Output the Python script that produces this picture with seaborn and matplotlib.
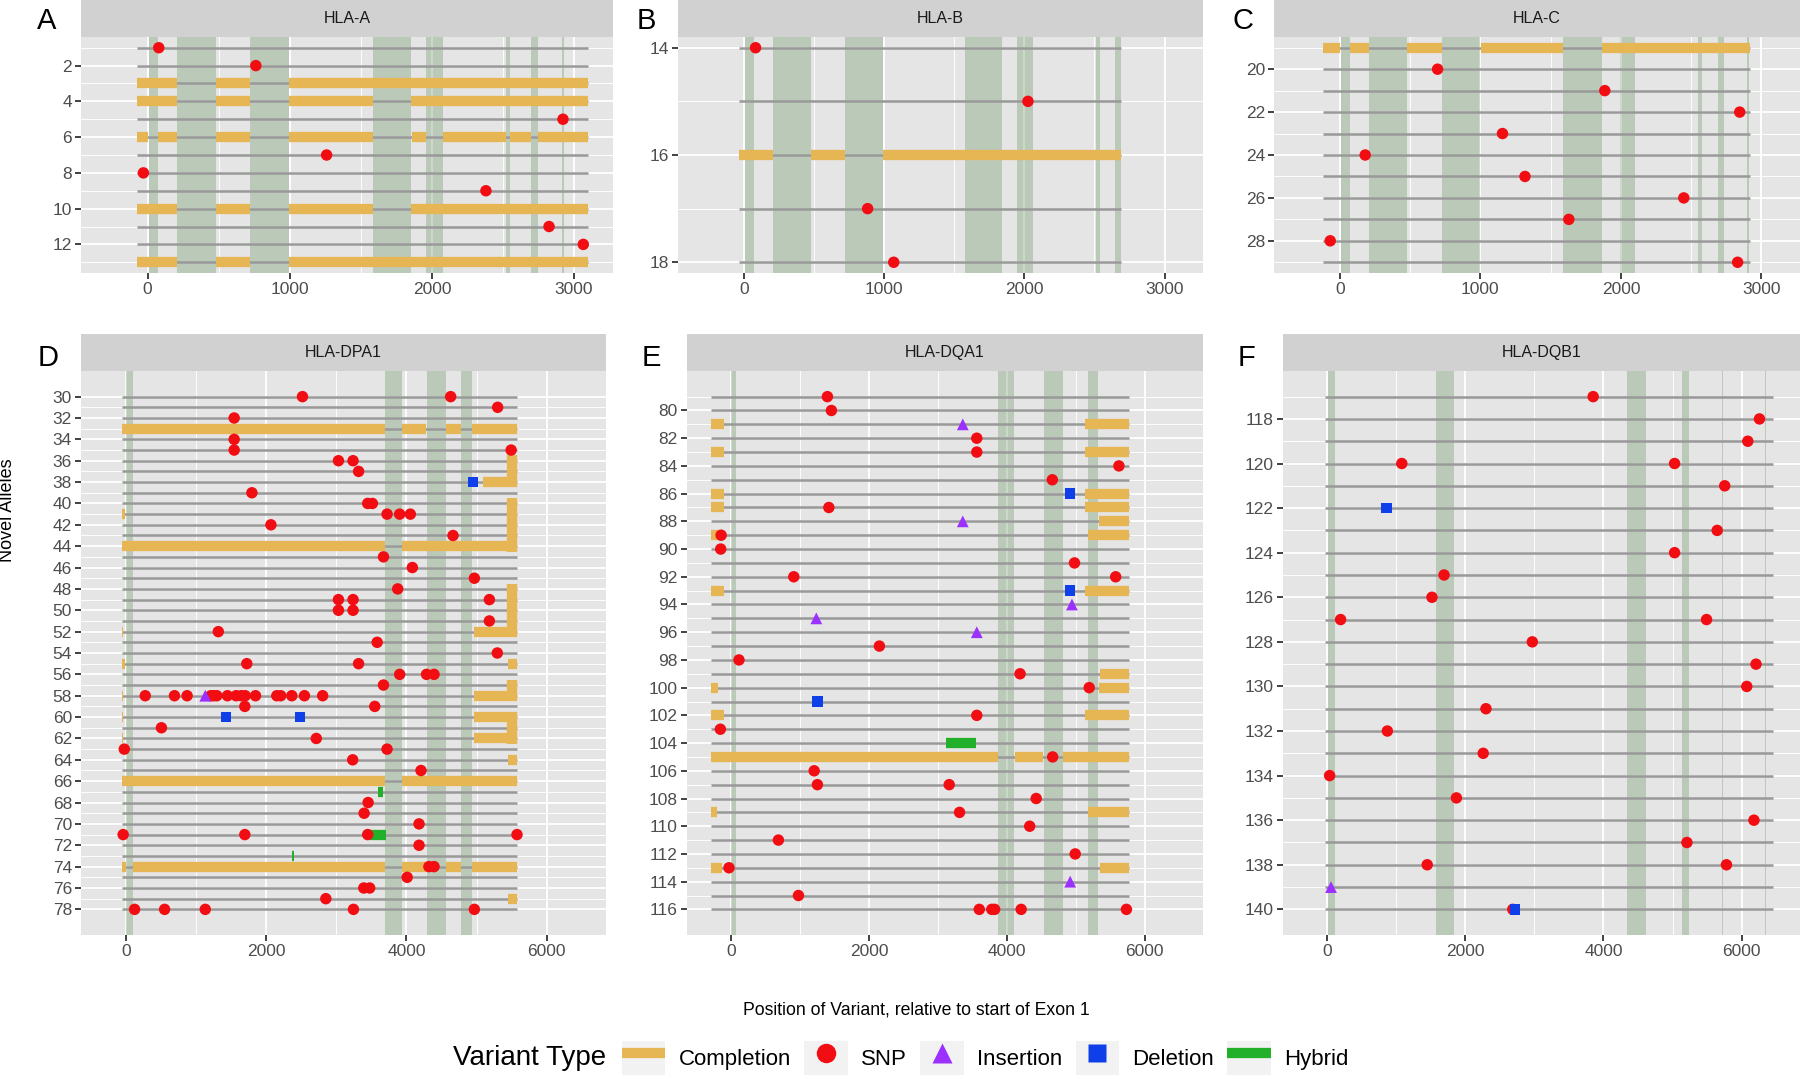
import numpy as np
import pandas as pd
import matplotlib
matplotlib.use("Agg")
import matplotlib.pyplot as plt
import seaborn as sns
from matplotlib.collections import LineCollection
from matplotlib.lines import Line2D
from matplotlib.patches import Rectangle
from matplotlib.legend_handler import HandlerTuple

# genes and the alleles shown in each panel
GENES = ['HLA-A', 'HLA-B', 'HLA-C', 'HLA-DPA1', 'HLA-DQA1', 'HLA-DQB1']
PANEL_LETTERS = ['A', 'B', 'C', 'D', 'E', 'F']
ALLELE_FIRST = [1, 14, 19, 30, 79, 117]
ALLELE_LAST = [13, 18, 29, 78, 116, 140]
GENE_START = [-76, -33, -120, -62, -286, -30]
GENE_END = [3098, 2691, 2921, 5577, 5766, 6458]

# exon positions (start, end)
EXONS_A = [(8, 70), (209, 479), (720, 997), (1582, 1856), (1960, 2078),
           (2519, 2552), (2698, 2746), (2916, 2928)]
EXONS_B = [(10, 74), (207, 477), (724, 992), (1577, 1844), (1949, 2064),
           (2508, 2538), (2648, 2686)]
EXONS_C = [(10, 74), (209, 477), (725, 995), (1590, 1865), (1990, 2103),
           (2548, 2577), (2690, 2735), (2898, 2910)]
EXONS_DPA1 = [(0, 96), (3690, 3938), (4287, 4558), (4777, 4930)]
EXONS_DQA1 = [(0, 78), (3870, 4104), (4535, 4816), (5179, 5325)]
EXONS_DQB1 = [(15, 114), (1572, 1836), (4348, 4622), (5139, 5244),
              (5714, 5728), (6336, 6350)]
EXONS = [EXONS_A, EXONS_B, EXONS_C, EXONS_DPA1, EXONS_DQA1, EXONS_DQB1]

# variants: (allele, position)
SNPS = [
    (1, 78), (2, 761), (5, 2922), (7, 1259), (8, -30), (9, 2380), (11, 2824), (12, 3065),
    (14, 84), (15, 2026), (17, 883), (18, 1069),
    (20, 695), (21, 1885), (22, 2845), (23, 1157), (24, 180), (25, 1317), (26, 2447),
    (27, 1629), (28, -69), (29, 2830),
    (30, 2518), (30, 4631), (31, 5301), (32, 1544), (34, 1544), (35, 1544), (35, 5493),
    (36, 3031), (36, 3239), (37, 3318), (39, 1797), (40, 3448), (40, 3515), (41, 3724),
    (41, 3904), (41, 4056), (42, 2068), (43, 4665), (45, 3673), (46, 4085), (47, 4969),
    (48, 3876), (49, 3031), (49, 3239), (49, 5183), (50, 3031), (50, 3239), (51, 5183),
    (52, 1318), (53, 3583), (54, 5296), (55, 1724), (55, 3318), (56, 3904), (56, 4287),
    (56, 4394), (57, 3673), (58, 276), (58, 693), (58, 873), (58, 1211), (58, 1251),
    (58, 1296), (58, 1448), (58, 1572), (58, 1645), (58, 1701), (58, 1848), (58, 2152),
    (58, 2208), (58, 2366), (58, 2546), (58, 2806), (59, 1696), (59, 3549), (61, 507),
    (62, 2715), (63, -23), (63, 3724), (64, 3234), (65, 4208), (68, 3454), (69, 3397),
    (70, 4180), (71, -39), (71, 1696), (71, 3448), (71, 5577), (72, 4180), (74, 4321),
    (74, 4394), (75, 4011), (76, 3392), (76, 3476), (77, 2851), (78, 124), (78, 552),
    (78, 1132), (78, 3245), (78, 4969),
    (79, 1397), (80, 1455), (82, 3564), (83, 3564), (84, 5626), (85, 4660), (87, 1418),
    (89, -145), (90, -151), (91, 4982), (92, 909), (92, 5579), (97, 2151), (98, 114),
    (99, 4192), (100, 5195), (102, 3564), (103, -156), (105, 4665), (106, 1205),
    (107, 1252), (107, 3164), (108, 4426), (109, 3314), (110, 4332), (111, 686),
    (112, 4992), (113, -31), (115, 977), (116, 3600), (116, 3782), (116, 3823),
    (116, 4208), (116, 5735),
    (117, 3851), (118, 6259), (119, 6090), (120, 1080), (120, 5030), (121, 5756),
    (123, 5647), (124, 5030), (125, 1692), (126, 1517), (127, 194), (127, 5493),
    (128, 2970), (129, 6209), (130, 6075), (131, 2299), (132, 871), (133, 2259),
    (134, 35), (135, 1871), (136, 6179), (137, 5209), (138, 1448), (138, 5781),
    (140, 2687),
]
INSERTIONS = [(58, 1132), (81, 3361), (88, 3361), (94, 4945), (95, 1236),
              (96, 3564), (114, 4919), (139, 55)]
DELETIONS = [(38, 4952), (60, 1431), (60, 2485), (86, 4919), (93, 4919),
             (101, 1252), (122, 856), (140, 2721)]

# completion segments: (allele from, allele to, position from, position to)
COMPLETION = [
    (3, 3, -76, 209), (3, 3, 479, 720), (3, 3, 997, 3098),
    (4, 4, -76, 209), (4, 4, 479, 720), (4, 4, 997, 1582), (4, 4, 1856, 3098),
    (6, 6, -76, 0), (6, 6, 76, 209), (6, 6, 479, 720), (6, 6, 997, 1582),
    (6, 6, 1859, 1960), (6, 6, 2078, 2519), (6, 6, 2552, 2698), (6, 6, 2746, 3098),
    (10, 10, -76, 209), (10, 10, 479, 720), (10, 10, 997, 1582), (10, 10, 1856, 3098),
    (13, 13, -76, 209), (13, 13, 479, 720), (13, 13, 997, 3098),
    (16, 16, -33, 207), (16, 16, 477, 722), (16, 16, 992, 2691),
    (19, 19, -120, 0), (19, 19, 74, 209), (19, 19, 477, 725), (19, 19, 1002, 1590),
    (19, 19, 1865, 2921),
    (33, 33, -62, 3690), (33, 33, 3938, 4282), (33, 33, 4558, 4772), (33, 33, 4930, 5577),
    (35.5, 38.5, 5505, 5505), (38, 38, 5093, 5577),
    (39.5, 44.5, 5505, 5505), (41, 41, -62, -17),
    (44, 44, -62, 3690), (44, 44, 3938, 5577),
    (47.5, 52.5, 5505, 5505), (52, 52, -62, -40), (52, 52, 4969, 5577),
    (55, 55, -62, -12), (55, 55, 5448, 5577),
    (56.5, 58.5, 5505, 5505), (58, 58, -62, -40), (58, 58, 4969, 5577),
    (59.5, 62.5, 5505, 5505), (60, 60, -62, -40), (60, 60, 4969, 5577),
    (62, 62, -62, -45), (62, 62, 4969, 5577),
    (64, 64, 5448, 5577), (66, 66, -62, 3690), (66, 66, 3938, 5577),
    (74, 74, -62, 0), (74, 74, 96, 3690), (74, 74, 3938, 4282), (74, 74, 4558, 4772),
    (74, 74, 4930, 5577), (77, 77, 5448, 5577),
    (81, 81, -286, -109), (81, 81, 5127, 5766), (83, 83, -286, -109), (83, 83, 5127, 5766),
    (86, 86, -286, -109), (86, 86, 5127, 5766), (87, 87, -286, -109), (87, 87, 5127, 5766),
    (88, 88, 5330, 5766), (89, 89, -286, -182), (89, 89, 5179, 5766),
    (93, 93, -286, -109), (93, 93, 5127, 5766), (99, 99, 5351, 5766),
    (100, 100, -286, -187), (100, 100, 5330, 5766),
    (102, 102, -286, -109), (102, 102, 5127, 5766),
    (105, 105, -286, 3870), (105, 105, 4119, 4530), (105, 105, 4816, 5766),
    (109, 109, -286, -208), (109, 109, 5174, 5766),
    (113, 113, -286, -130), (113, 113, 5351, 5766),
]
# hybrid segments: (allele, position from, position to)
HYBRIDS = [(67, 3589, 3662), (71, 3487, 3713), (73, 2375, 2398), (104, 3122, 3548)]

TYPE_ORDER = ['Completion', 'SNP', 'Insertion', 'Deletion', 'Hybrid']
TYPE_COLORS = {'Completion': '#E6B554', 'SNP': '#F20D12', 'Insertion': '#9B30FF',
               'Deletion': '#0F3FE8', 'Hybrid': '#22B02A'}
EXON_COLOR = '#5C8B56'
GENE_COLOR = '#999999'

# panel boxes in pixels (left, top, right, bottom) on a 1800 x 1079 canvas
W, H = 1800, 1079
PANEL_BOX = [(81, 37, 613, 273), (678, 37, 1203, 273), (1274, 37, 1800, 273),
             (81, 371, 606, 935), (687, 371, 1203, 935), (1283, 371, 1800, 935)]
STRIP_H = 37
LETTER_XY = [(47, 21), (646, 21), (1243, 21), (48, 358), (651, 358), (1247, 358)]

plt.rcParams['font.family'] = ['Liberation Sans', 'DejaVu Sans']

variants = pd.DataFrame(
    [(a, p, 'SNP') for a, p in SNPS]
    + [(a, p, 'Insertion') for a, p in INSERTIONS]
    + [(a, p, 'Deletion') for a, p in DELETIONS],
    columns=['allele', 'pos', 'type'])


def fig_rect(box):
    l, t, r, b = box
    return [l / W, 1 - b / H, (r - l) / W, (b - t) / H]


fig = plt.figure(figsize=(W / 100, H / 100), dpi=100)

for i, gene in enumerate(GENES):
    lo, hi = ALLELE_FIRST[i], ALLELE_LAST[i]
    top_row = i < 3
    ax = fig.add_axes(fig_rect(PANEL_BOX[i]))
    ax.set_facecolor('#E5E5E5')
    ax.set_axisbelow(True)

    for x0, x1 in EXONS[i]:
        ax.axvspan(x0, x1, color=EXON_COLOR, alpha=0.3, lw=0, zorder=1)

    alleles = np.arange(lo, hi + 1)
    ax.hlines(alleles, GENE_START[i], GENE_END[i], color=GENE_COLOR, lw=1.8, zorder=2)

    segs = [[(x0, y0), (x1, y1)] for y0, y1, x0, x1 in COMPLETION if lo - 1 < y0 < hi + 1]
    if segs:
        ax.add_collection(LineCollection(segs, colors=TYPE_COLORS['Completion'],
                                         linewidths=7.4, capstyle='butt', zorder=3))
    hyb = [[(x0, a), (x1, a)] for a, x0, x1 in HYBRIDS if lo <= a <= hi]
    if hyb:
        ax.add_collection(LineCollection(hyb, colors=TYPE_COLORS['Hybrid'],
                                         linewidths=7.4, capstyle='butt', zorder=4))

    sub = variants[(variants['allele'] >= lo) & (variants['allele'] <= hi)]
    sns.scatterplot(data=sub, x='pos', y='allele', hue='type', style='type', size='type',
                    palette=TYPE_COLORS, markers={'SNP': 'o', 'Insertion': '^', 'Deletion': 's'},
                    sizes={'SNP': 68, 'Insertion': 72, 'Deletion': 56},
                    linewidth=0, legend=False, ax=ax, zorder=5)

    span = hi - lo
    ax.set_ylim(hi + 0.05 * span, lo - 0.05 * span)
    if top_row:
        ax.set_xlim(-469, 3274)
        ax.set_xticks([0, 1000, 2000, 3000])
        ax.set_xticks([500, 1500, 2500], minor=True)
    else:
        ax.set_xlim(-640, 6846)
        ax.set_xticks([0, 2000, 4000, 6000])
        ax.set_xticks([1000, 3000, 5000], minor=True)
    majors = [a for a in alleles if a % 2 == 0]
    ax.set_yticks(majors)
    ax.set_yticks([a for a in alleles if a % 2 == 1], minor=True)
    ax.grid(which='major', color='white', lw=1.3)
    ax.grid(which='minor', color='white', lw=0.65)
    ax.tick_params(which='major', length=4, width=1.3, color='#333333',
                   labelcolor='#4D4D4D', labelsize=12.5, pad=2.5)
    ax.tick_params(which='minor', length=0)
    ax.set_xlabel('')
    ax.set_ylabel('')
    for s in ax.spines.values():
        s.set_visible(False)

    # strip
    l, t, r, b = PANEL_BOX[i]
    sax = fig.add_axes(fig_rect((l, t - STRIP_H, r, t)))
    sax.set_facecolor('#D1D1D1')
    sax.set_xticks([])
    sax.set_yticks([])
    for s in sax.spines.values():
        s.set_visible(False)
    sax.text(0.5, 0.5, gene, ha='center', va='center', fontsize=11.5, color='#1A1A1A',
             transform=sax.transAxes)

    lx, ly = LETTER_XY[i]
    fig.text(lx / W, 1 - ly / H, PANEL_LETTERS[i], ha='center', va='center', fontsize=21)

fig.text(8 / W, 1 - 510 / H, 'Novel Alleles', rotation=90, ha='center', va='center',
         fontsize=13)
fig.text(916 / W, 1 - 1010 / H, 'Position of Variant, relative to start of Exon 1',
         ha='center', va='center', fontsize=12.7)

# legend
bg = Rectangle((0, 0), 1, 1, facecolor='#F2F2F2', edgecolor='none')
handles = [
    (bg, Line2D([], [], color=TYPE_COLORS['Completion'], lw=7.4, solid_capstyle='butt')),
    (bg, Line2D([], [], ls='', marker='o', ms=14, color=TYPE_COLORS['SNP'], mec='none')),
    (bg, Line2D([], [], ls='', marker='^', ms=15, color=TYPE_COLORS['Insertion'], mec='none')),
    (bg, Line2D([], [], ls='', marker='s', ms=13, color=TYPE_COLORS['Deletion'], mec='none')),
    (bg, Line2D([], [], color=TYPE_COLORS['Hybrid'], lw=7.4, solid_capstyle='butt')),
]
fig.legend(handles, TYPE_ORDER, ncol=5, loc='center left',
           bbox_to_anchor=(622 / W, 1 - 1058 / H), frameon=False, fontsize=16,
           handlelength=1.95, handleheight=1.95, handletextpad=0.6, columnspacing=0.6,
           borderpad=0, borderaxespad=0,
           handler_map={tuple: HandlerTuple(ndivide=1, pad=0)})
fig.text(606 / W, 1 - 1058 / H, 'Variant Type', ha='right', va='center', fontsize=20)

fig.savefig('out.png', dpi=100)
